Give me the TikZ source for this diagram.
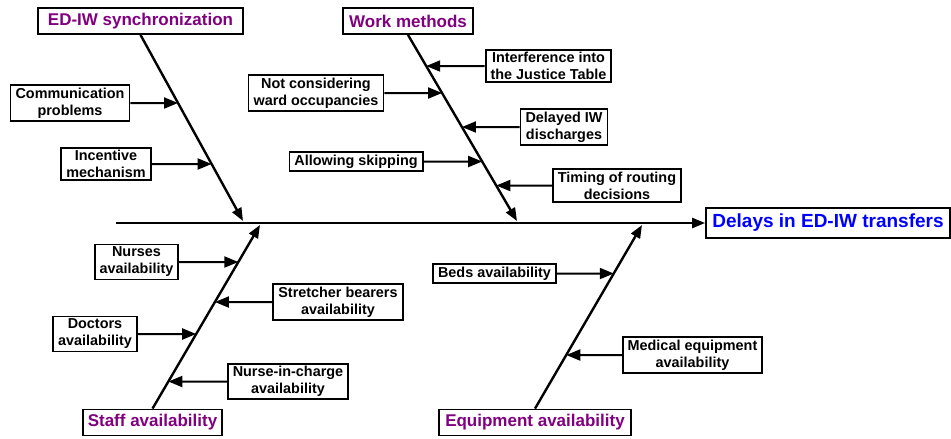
\documentclass[tikz,border=0pt]{standalone}
\usepackage{fontspec}
\setmainfont{Liberation Sans}
\usetikzlibrary{arrows.meta}
\definecolor{catcolor}{RGB}{128,0,128}
\definecolor{effcolor}{RGB}{0,0,255}
\tikzset{
  box/.style={draw, line width=1.8pt, align=center, inner xsep=5pt, inner ysep=2.5pt,
    font=\bfseries\fontsize{14.4}{17}\selectfont},
  cat/.style={box, text=catcolor, minimum height=26pt,
    font=\bfseries\fontsize{17}{20}\selectfont},
  bone/.style={line width=2.4pt, -{Triangle[length=13pt,width=10pt]}},
  cause/.style={line width=2pt, -{Triangle[length=14pt,width=11pt]}}
}
\begin{document}
\begin{tikzpicture}[x=1pt,y=-1pt]
\useasboundingbox (0,0) rectangle (951,439);
% Nodes
\node(E)[box, text=effcolor, minimum width=244pt, minimum height=30pt,
  font=\bfseries\fontsize{19}{22}\selectfont] at (828,223){Delays in ED-IW transfers};
\node(S)[cat, minimum width=205pt] at (140.5,21){ED-IW synchronization};
\node(W)[cat, minimum width=130pt] at (408,21){Work methods};
\node(T)[cat, minimum width=139pt] at (152.5,422.5){Staff availability};
\node(Q)[cat, minimum width=192pt] at (535,422.5){Equipment availability};
\node(s1)[box] at (70,103){Communication\\problems};
\node(s2)[box] at (106,164){Incentive\\mechanism};
\node(w1)[box] at (316,93){Not considering\\ward occupancies};
\node(w2)[box] at (356,161.5){Allowing skipping};
\node(w3)[box] at (548.5,66){Interference into\\the Justice Table};
\node(w4)[box] at (564,127){Delayed IW\\discharges};
\node(w5)[box] at (617,185.5){Timing of routing\\decisions};
\node(t1)[box] at (136.5,262){Nurses\\availability};
\node(t2)[box] at (338,302){Stretcher bearers\\availability};
\node(t3)[box] at (95,334){Doctors\\availability};
\node(t4)[box] at (288,381.5){Nurse-in-charge\\availability};
\node(q1)[box] at (494.5,273.5){Beds availability};
\node(q2)[box] at (692.5,355){Medical equipment\\availability};
\coordinate(tail) at (116,223);
\coordinate(se) at (243,221);
\coordinate(we) at (517,221);
\coordinate(te) at (260,225);
\coordinate(qe) at (642,225);
% Arcs
\draw[bone] (tail) -- (E);
\draw[bone] (S.south) -- (se);
\draw[bone] (W.south) -- (we);
\draw[bone] (T.north) -- (te);
\draw[bone] (Q.north) -- (qe);
\draw[cause] (s1) -- (intersection of S.south--se and s1.west--s1.east);
\draw[cause] (s2) -- (intersection of S.south--se and s2.west--s2.east);
\draw[cause] (w1) -- (intersection of W.south--we and w1.west--w1.east);
\draw[cause] (w2) -- (intersection of W.south--we and w2.west--w2.east);
\draw[cause] (w3) -- (intersection of W.south--we and w3.west--w3.east);
\draw[cause] (w4) -- (intersection of W.south--we and w4.west--w4.east);
\draw[cause] (w5) -- (intersection of W.south--we and w5.west--w5.east);
\draw[cause] (t1) -- (intersection of T.north--te and t1.west--t1.east);
\draw[cause] (t2) -- (intersection of T.north--te and t2.west--t2.east);
\draw[cause] (t3) -- (intersection of T.north--te and t3.west--t3.east);
\draw[cause] (t4) -- (intersection of T.north--te and t4.west--t4.east);
\draw[cause] (q1) -- (intersection of Q.north--qe and q1.west--q1.east);
\draw[cause] (q2) -- (intersection of Q.north--qe and q2.west--q2.east);
\end{tikzpicture}
\end{document}
